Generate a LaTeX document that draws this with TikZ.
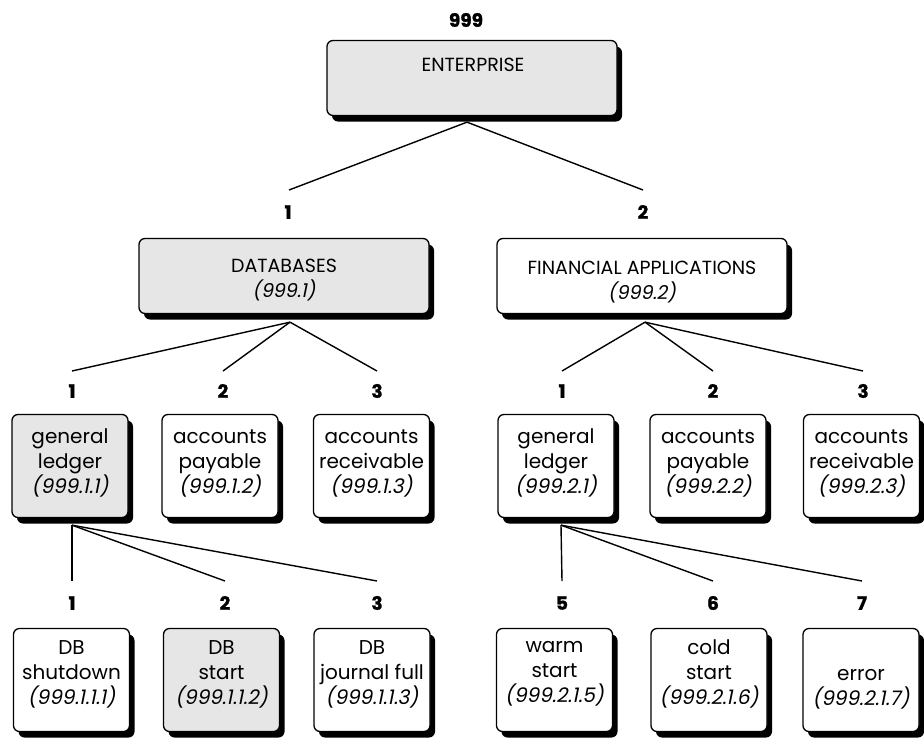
\documentclass[tikz,border=0pt]{standalone}
\usepackage{fontspec}
\setmainfont{Poppins}
\newfontfamily\codefont{Poppins}[FakeSlant=0.2]
\newfontfamily\numfont{Poppins}[UprightFeatures={FakeBold=0}, BoldFeatures={FakeBold=1.2}]
\usetikzlibrary{shadows}

\definecolor{boxgrey}{RGB}{230,230,230}

\tikzset{
  box/.style={draw=black, line width=1.3pt, rounded corners=6pt, fill=white,
    inner sep=0pt, drop shadow={shadow xshift=5pt, shadow yshift=-6pt, fill=black, opacity=1}},
  grey/.style={fill=boxgrey},
  topbox/.style={box, minimum width=290pt, minimum height=75pt},
  smallbox/.style={box, minimum width=116pt, minimum height=103pt},
  boxtext/.style={align=center, inner sep=0pt, font=\fontsize{19}{25}\selectfont},
  smalltext/.style={align=center, inner sep=0pt, font=\fontsize{20}{25}\selectfont},
  num/.style={inner sep=0pt, font=\fontsize{18.5}{20}\selectfont\numfont\bfseries},
  link/.style={line width=1.4pt},
}
\newcommand{\code}[1]{{\codefont #1}}

\begin{document}
\begin{tikzpicture}[x=1pt, y=-1pt]
\useasboundingbox (0,0) rectangle (924,737);

% top level
\node[num] (n999) at (466,20) {999};
\node[topbox, grey] (ent) at (472,78) {};
\node[boxtext] (ent-t) at (473,65) {ENTERPRISE};

% second level
\node[topbox, grey] (db) at (284,276) {};
\node[boxtext] (db-t) at (284,280) {DATABASES\\\code{(999.1)}};
\node[topbox] (fa) at (642,276) {};
\node[boxtext] (fa-t) at (642,282) {FINANCIAL APPLICATIONS\\\code{(999.2)}};

\node[num] (l1a) at (288,212) {1};
\node[num] (l1b) at (643,212) {2};
\coordinate (e1a) at (289,190);
\coordinate (e1b) at (643,190);
\draw[link] ([xshift=-5pt, yshift=-6pt]ent.south) -- (e1a);
\draw[link] ([xshift=-5pt, yshift=-6pt]ent.south) -- (e1b);

% third level
\foreach \nm/\x/\lab/\lx/\g/\txt in {
  dgl/70/1/72/grey/{general\\ledger\\\code{(999.1.1)}},
  dap/220/2/223//{accounts\\payable\\\code{(999.1.2)}},
  dar/371.5/3/377//{accounts\\receivable\\\code{(999.1.3)}},
  fgl/556/1/562//{general\\ledger\\\code{(999.2.1)}},
  fap/708/2/713//{accounts\\payable\\\code{(999.2.2)}},
  far/861.5/3/863//{accounts\\receivable\\\code{(999.2.3)}}}{
  \node[smallbox, \g] (\nm) at (\x,466) {};
  \node[smalltext] (\nm-t) at (\x,463) {\txt};
  \node[num] (\nm-l) at (\lx,391) {\lab};
  \coordinate (\nm-e) at (\lx,371);
}
\foreach \t in {dgl,dap,dar}{
  \draw[link] ([xshift=6pt, yshift=-8pt]db.south) -- (\t-e);
}
\foreach \t in {fgl,fap,far}{
  \draw[link] ([xshift=3pt, yshift=-8pt]fa.south) -- (\t-e);
}

% fourth level
\foreach \nm/\x/\lab/\lx/\g/\txt in {
  dsd/71.5/1/72//{DB\\shutdown\\\code{(999.1.1.1)}},
  dst/221.5/2/225/grey/{DB\\start\\\code{(999.1.1.2)}},
  djf/372/3/377//{DB\\journal full\\\code{(999.1.1.3)}},
  fws/554.5/5/562//{warm\\start\\\code{(999.2.1.5)}},
  fcs/709/6/713//{cold\\start\\\code{(999.2.1.6)}},
  fer/861/7/862//{\strut\\error\\\code{(999.2.1.7)}}}{
  \node[smallbox, \g] (\nm) at (\x,680) {};
  \node[smalltext] (\nm-t) at (\x,674) {\txt};
  \node[num] (\nm-l) at (\lx,603) {\lab};
  \coordinate (\nm-e) at (\lx,581);
}
\foreach \t in {dsd,dst,djf}{
  \draw[link] ([xshift=2pt, yshift=-7pt]dgl.south) -- (\t-e);
}
\foreach \t in {fws,fcs,fer}{
  \draw[link] ([xshift=5pt, yshift=-7pt]fgl.south) -- (\t-e);
}
\end{tikzpicture}
\end{document}
